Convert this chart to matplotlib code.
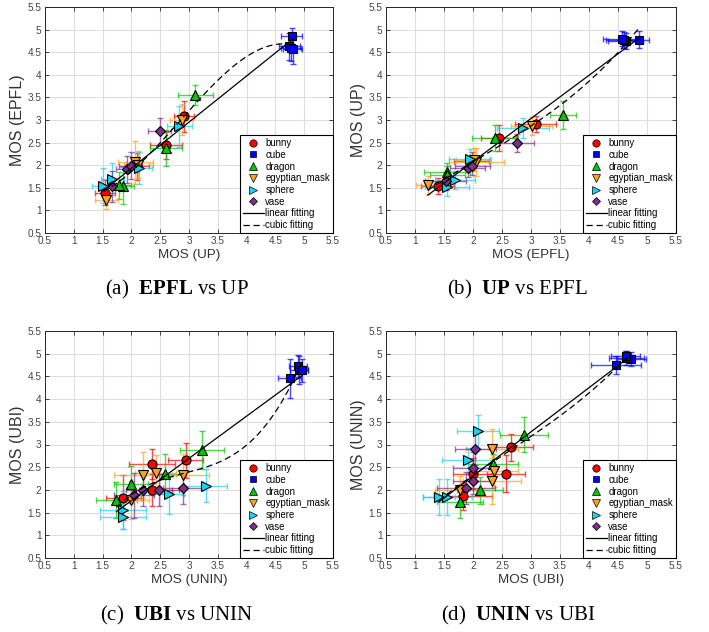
import numpy as np
import matplotlib
matplotlib.use('Agg')
import matplotlib.pyplot as plt
from matplotlib.lines import Line2D

plt.rcParams['font.family'] = ['Liberation Sans', 'DejaVu Sans']
plt.rcParams['mathtext.fontset'] = 'custom'
plt.rcParams['mathtext.rm'] = 'Liberation Serif'
plt.rcParams['mathtext.bf'] = 'Liberation Serif:bold'

# objects, 4 test conditions each (same order in every array)
objects = ['bunny', 'cube', 'dragon', 'egyptian_mask', 'sphere', 'vase']
n_per_obj = 4

# MOS and confidence intervals per lab
up_mos = [2.91, 2.60, 1.54, 2.10,
          4.78, 4.74, 4.77, 4.80,
          3.11, 2.60, 1.85, 1.79,
          2.87, 2.07, 1.56, 2.12,
          2.83, 2.14, 1.67, 1.51,
          2.49, 1.93, 1.99, 1.66]
up_ci = [0.17, 0.28, 0.18, 0.20,
         0.19, 0.18, 0.17, 0.17,
         0.30, 0.28, 0.20, 0.20,
         0.20, 0.30, 0.20, 0.25,
         0.22, 0.22, 0.20, 0.20,
         0.20, 0.20, 0.20, 0.20]
epfl_mos = [3.08, 2.44, 1.39, 1.98,
            4.86, 4.63, 4.60, 4.57,
            3.55, 2.38, 1.55, 1.56,
            3.01, 2.06, 1.22, 2.01,
            2.86, 1.94, 1.69, 1.55,
            2.75, 1.91, 1.99, 1.53]
epfl_ci = [0.35, 0.30, 0.28, 0.30,
           0.17, 0.30, 0.30, 0.33,
           0.22, 0.40, 0.40, 0.30,
           0.35, 0.48, 0.20, 0.30,
           0.45, 0.35, 0.35, 0.38,
           0.30, 0.30, 0.30, 0.35]
unin_mos = [2.94, 2.36, 2.36, 1.86,
            4.75, 4.89, 4.91, 4.96,
            3.22, 2.58, 1.99, 1.74,
            2.20, 2.42, 2.90, 2.00,
            3.29, 2.65, 1.85, 1.85,
            2.90, 2.48, 2.20, 2.05]
unin_ci = [0.30, 0.40, 0.35, 0.30,
           0.20, 0.15, 0.15, 0.10,
           0.38, 0.20, 0.30, 0.35,
           0.50, 0.35, 0.45, 0.30,
           0.37, 0.27, 0.40, 0.40,
           0.35, 0.35, 0.30, 0.35]
ubi_mos = [2.65, 2.57, 2.00, 1.83,
           4.46, 4.73, 4.64, 4.63,
           2.88, 2.35, 2.12, 1.78,
           2.33, 2.37, 2.33, 1.77,
           2.09, 1.91, 1.56, 1.41,
           2.04, 2.00, 2.00, 1.88]
ubi_ci = [0.38, 0.33, 0.35, 0.50,
          0.43, 0.25, 0.30, 0.25,
          0.42, 0.43, 0.40, 0.40,
          0.50, 0.40, 0.45, 0.42,
          0.36, 0.45, 0.42, 0.28,
          0.35, 0.35, 0.35, 0.50]

ticks = [0.5, 1, 1.5, 2, 2.5, 3, 3.5, 4, 4.5, 5, 5.5]
tick_labels = ['0.5', '1', '1.5', '2', '2.5', '3', '3.5', '4', '4.5', '5', '5.5']

colors = ['#ff0000', '#0000ff', '#00c800', '#ffa31a', '#19d3f3', '#7e2f8e']
markers = ['o', 's', '^', 'v', '>', 'D']
msizes = [6.5, 6, 7.5, 7.5, 7.5, 5.5]

panels = [
    # (axes rect, x, xci, y, yci, xlabel, ylabel, caption, caption xy)
    ([45/709, 1-233/632, 288/709, 226/632], up_mos, up_ci, epfl_mos, epfl_ci,
     'MOS (UP)', 'MOS (EPFL)', r'(a)  $\mathbf{EPFL}$ vs UP', (177/709, 1-289/632)),
    ([386/709, 1-233/632, 290/709, 226/632], epfl_mos, epfl_ci, up_mos, up_ci,
     'MOS (EPFL)', 'MOS (UP)', r'(b)  $\mathbf{UP}$ vs EPFL', (518/709, 1-289/632)),
    ([45/709, 1-558/632, 288/709, 227/632], unin_mos, unin_ci, ubi_mos, ubi_ci,
     'MOS (UNIN)', 'MOS (UBI)', r'(c)  $\mathbf{UBI}$ vs UNIN', (177/709, 1-615/632)),
    ([386/709, 1-558/632, 290/709, 227/632], ubi_mos, ubi_ci, unin_mos, unin_ci,
     'MOS (UBI)', 'MOS (UNIN)', r'(d)  $\mathbf{UNIN}$ vs UBI', (518/709, 1-615/632)),
]

fig = plt.figure(figsize=(7.09, 6.32), dpi=100)

for rect, xs, xe, ys, ye, xl, yl, cap, cap_xy in panels:
    ax = fig.add_axes(rect)
    xs = np.array(xs); ys = np.array(ys)
    xe = np.array(xe); ye = np.array(ye)

    for i, obj in enumerate(objects):
        sl = slice(i * n_per_obj, (i + 1) * n_per_obj)
        ax.errorbar(xs[sl], ys[sl], xerr=xe[sl], yerr=ye[sl], fmt='none',
                    ecolor=colors[i], elinewidth=1.0, capsize=2, capthick=1.0,
                    alpha=0.7, zorder=2)
        ax.plot(xs[sl], ys[sl], linestyle='none', marker=markers[i],
                ms=msizes[i], mfc=colors[i], mec='black', mew=0.8, zorder=3)

    # fits over all points
    xx = np.linspace(xs.min(), xs.max(), 200)
    p1 = np.polyfit(xs, ys, 1)
    p3 = np.polyfit(xs, ys, 3)
    ax.plot(xx, np.polyval(p1, xx), color='black', lw=0.9, zorder=4)
    ax.plot(xx, np.polyval(p3, xx), color='black', lw=0.9, dashes=(5, 3), zorder=4)

    ax.set_xlim(0.5, 5.5)
    ax.set_ylim(0.5, 5.5)
    ax.set_xticks(ticks)
    ax.set_yticks(ticks)
    ax.set_xticklabels(tick_labels)
    ax.set_yticklabels(tick_labels)
    ax.grid(True, color='#dedede', lw=0.8)
    ax.set_axisbelow(True)
    ax.tick_params(direction='in', length=3, width=0.6, top=True, right=True,
                   labelsize=7.2, labelcolor='#444444', color='#262626', pad=2.5)
    for s in ax.spines.values():
        s.set_linewidth(0.7)
        s.set_color('#262626')
    ax.set_xlabel(xl, fontsize=9.7, color='#333333', labelpad=2)
    ax.set_ylabel(yl, fontsize=11.5, color='#333333', labelpad=2)

    handles = [Line2D([], [], linestyle='none', marker=markers[i], ms=msizes[i] - 1.2,
                      mfc=colors[i], mec='black', mew=0.5) for i in range(len(objects))]
    handles += [Line2D([], [], color='black', lw=0.9),
                Line2D([], [], color='black', lw=0.9, dashes=(5, 3))]
    labels = objects + ['linear fitting', 'cubic fitting']
    leg = ax.legend(handles, labels, loc='lower right', bbox_to_anchor=(1, 0),
                    borderaxespad=0, fontsize=6.9, frameon=True, fancybox=False,
                    framealpha=1, edgecolor='black', borderpad=0.3,
                    labelspacing=0.18, handlelength=2.2, handletextpad=0.15)
    leg.get_frame().set_linewidth(0.8)
    leg.set_zorder(10)

    fig.text(cap_xy[0], cap_xy[1], cap, ha='center', va='center',
             fontsize=15, family='Liberation Serif')

fig.savefig('out.png', dpi=100)
